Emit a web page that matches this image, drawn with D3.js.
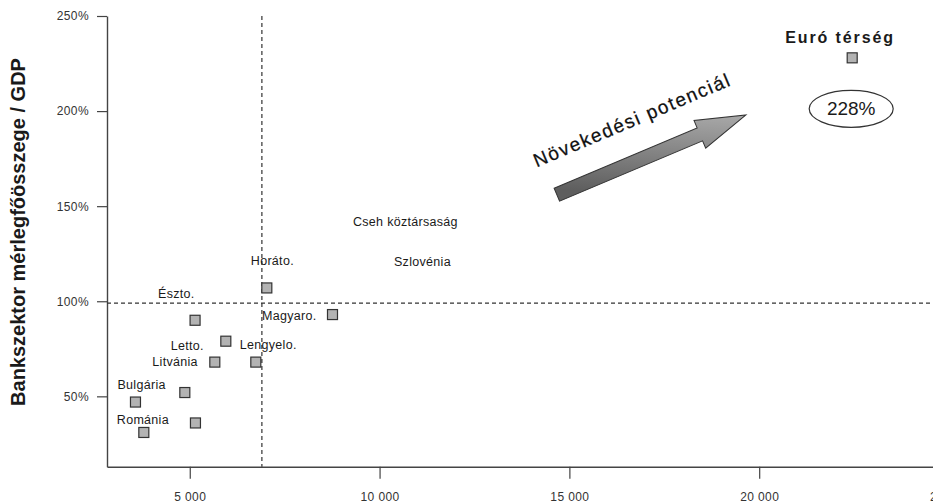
<!DOCTYPE html>
<html>
<head>
<meta charset="utf-8">
<script src="https://cdn.jsdelivr.net/npm/d3@7"></script>
<style>
  html, body { margin: 0; padding: 0; background: #fff; }
  svg { display: block; font-family: "Liberation Sans", Arial, sans-serif; }
</style>
</head>
<body>
<svg id="chart" width="933" height="503"></svg>
<script>
// Countries: GDP per capita (x) vs. banking-sector assets / GDP in % (y)
const countryNames = ["Horáto.", "Észto.", "Magyaro.", "Letto.", "Lengyelo.", "Litvánia", "", "Bulgária", "", "Románia", "Euró térség"];
const gdpPerCapita = [7030, 5140, 8760, 5950, 6740, 5660, 4870, 3570, 5150, 3790, 22450];
const bankAssetsPct = [107, 90, 93, 79, 68, 68, 52, 47, 36, 31, 228];

// Labels written in the chart area without a marker of their own
const freeLabels = ["Cseh köztársaság", "Szlovénia"];
const freeLabelX = [9300, 10380];
const freeLabelY = [142, 121];

// Reference lines (dashed)
const refGdp = 6900;
const refAssets = 99;

// Axis ticks
const xTicks = [5000, 10000, 15000, 20000, 25000];
const yTicks = [50, 100, 150, 200, 250];

// Growth-potential arrow, in data units (tail -> tip)
const arrowFrom = [14670, 156];
const arrowTo = [19650, 198];
const arrowText = "Növekedési potenciál";
const yTitle = "Bankszektor mérlegfőösszege / GDP";

const svg = d3.select("#chart");
const W = 933;

const x = d3.scaleLinear().domain([2820, 25000]).range([107, 949]);
const y = d3.scaleLinear().domain([13, 250]).range([466.7, 16]);

const huLocale = d3.formatLocale({ decimal: ",", thousands: " ", grouping: [3], currency: ["", ""] });
const fmtX = huLocale.format(",");

// gradient for the arrow body
const defs = svg.append("defs");
const grad = defs.append("linearGradient").attr("id", "arrowGrad")
  .attr("x1", 0).attr("y1", 0.3).attr("x2", 1).attr("y2", 0);
grad.append("stop").attr("offset", "0%").attr("stop-color", "#5e5e5e");
grad.append("stop").attr("offset", "55%").attr("stop-color", "#8e8e8e");
grad.append("stop").attr("offset", "100%").attr("stop-color", "#b5b5b5");

// axes
const xAxis = svg.append("g")
  .attr("transform", `translate(0,${y(13)})`)
  .call(d3.axisBottom(x).tickValues(xTicks).tickFormat(fmtX).tickSize(12).tickSizeOuter(0).tickPadding(14));
const yAxis = svg.append("g")
  .attr("transform", `translate(${x(2820)},0)`)
  .call(d3.axisLeft(y).tickValues(yTicks).tickFormat(d => d + "%").tickSize(10).tickSizeOuter(0).tickPadding(8));

[xAxis, yAxis].forEach(g => {
  g.select(".domain").attr("stroke", "#444").attr("stroke-width", 1.4);
  g.selectAll(".tick line").attr("stroke", "#444").attr("stroke-width", 1.2);
  g.selectAll(".tick text").attr("fill", "#333").attr("font-size", 12).attr("letter-spacing", 0.4)
    .attr("font-family", "Liberation Sans, Arial, sans-serif");
});

// dashed reference lines
svg.append("line")
  .attr("x1", x(refGdp)).attr("x2", x(refGdp)).attr("y1", y(250)).attr("y2", y(13))
  .attr("stroke", "#333").attr("stroke-width", 1.2).attr("stroke-dasharray", "4,3");
svg.append("line")
  .attr("x1", x(2820)).attr("x2", W).attr("y1", y(refAssets)).attr("y2", y(refAssets))
  .attr("stroke", "#333").attr("stroke-width", 1.2).attr("stroke-dasharray", "4,3");

// y-axis title
svg.append("text")
  .attr("transform", `translate(25,232) rotate(-90)`)
  .attr("text-anchor", "middle").attr("font-size", 20).attr("font-weight", "bold")
  .attr("fill", "#1a1a1a").text(yTitle);

// markers
const pts = countryNames.map((n, i) => ({ name: n, gx: gdpPerCapita[i], ay: bankAssetsPct[i] }));
svg.append("g").selectAll("rect").data(pts).join("rect")
  .attr("x", d => x(d.gx) - 5).attr("y", d => y(d.ay) - 5)
  .attr("width", 10).attr("height", 10)
  .attr("fill", "#b3b3b3").attr("stroke", "#333").attr("stroke-width", 1.2);

// country labels: placement relative to each marker
const labelPlace = {
  "Horáto.":   { dx: -16, dy: -27, anchor: "start" },
  "Észto.":    { dx: -37, dy: -27, anchor: "start" },
  "Magyaro.":  { dx: -16, dy: 1,   anchor: "end" },
  "Letto.":    { dx: -22, dy: 4,   anchor: "end" },
  "Lengyelo.": { dx: -16, dy: -17, anchor: "start" },
  "Litvánia":  { dx: -17, dy: 0,   anchor: "end" },
  "Bulgária":  { dx: -18, dy: -17, anchor: "start" },
  "Románia":   { dx: -27, dy: -13, anchor: "start" }
};
svg.append("g").selectAll("text").data(pts.filter(d => labelPlace[d.name])).join("text")
  .attr("x", d => x(d.gx) + labelPlace[d.name].dx)
  .attr("y", d => y(d.ay) + labelPlace[d.name].dy)
  .attr("dy", "0.35em")
  .attr("text-anchor", d => labelPlace[d.name].anchor)
  .attr("font-size", 12.5).attr("letter-spacing", 0.3).attr("fill", "#1a1a1a")
  .text(d => d.name);

svg.append("g").selectAll("text").data(freeLabels).join("text")
  .attr("x", (d, i) => x(freeLabelX[i])).attr("y", (d, i) => y(freeLabelY[i]))
  .attr("dy", "0.35em")
  .attr("font-size", 12.5).attr("letter-spacing", 0.3).attr("fill", "#1a1a1a")
  .text(d => d);

// euro-area label and value bubble
const euro = pts[pts.length - 1];
svg.append("text")
  .attr("x", x(euro.gx) - 67).attr("y", y(euro.ay) - 15)
  .attr("text-anchor", "start").attr("font-size", 16).attr("font-weight", "bold")
  .attr("letter-spacing", 1.9).attr("fill", "#1a1a1a").text(euro.name);
svg.append("ellipse")
  .attr("cx", x(euro.gx) - 1).attr("cy", y(euro.ay) + 51)
  .attr("rx", 42).attr("ry", 18.5)
  .attr("fill", "#fff").attr("stroke", "#333").attr("stroke-width", 1.2);
svg.append("text")
  .attr("x", x(euro.gx) - 1).attr("y", y(euro.ay) + 51).attr("dy", "0.35em")
  .attr("text-anchor", "middle").attr("font-size", 19).attr("fill", "#1a1a1a")
  .text(euro.ay + "%");

// growth-potential arrow
const ax0 = x(arrowFrom[0]), ay0 = y(arrowFrom[1]);
const ax1 = x(arrowTo[0]), ay1 = y(arrowTo[1]);
const len = Math.hypot(ax1 - ax0, ay1 - ay0);
const ang = Math.atan2(ay1 - ay0, ax1 - ax0) * 180 / Math.PI;
const sw = 7, hw = 15, hl = 50;
const arrowG = svg.append("g").attr("transform", `translate(${ax0},${ay0}) rotate(${ang})`);
arrowG.append("path")
  .attr("d", `M0,${-sw} L${len - hl},${-sw} L${len - hl},${-hw} L${len},0 L${len - hl},${hw} L${len - hl},${sw} L0,${sw} Z`)
  .attr("fill", "url(#arrowGrad)").attr("stroke", "#333").attr("stroke-width", 1);
arrowG.append("text")
  .attr("x", -8).attr("y", -33)
  .attr("font-size", 19).attr("letter-spacing", 1.6).attr("fill", "#111")
  .attr("stroke", "#111").attr("stroke-width", 0.25)
  .text(arrowText);
</script>
</body>
</html>
